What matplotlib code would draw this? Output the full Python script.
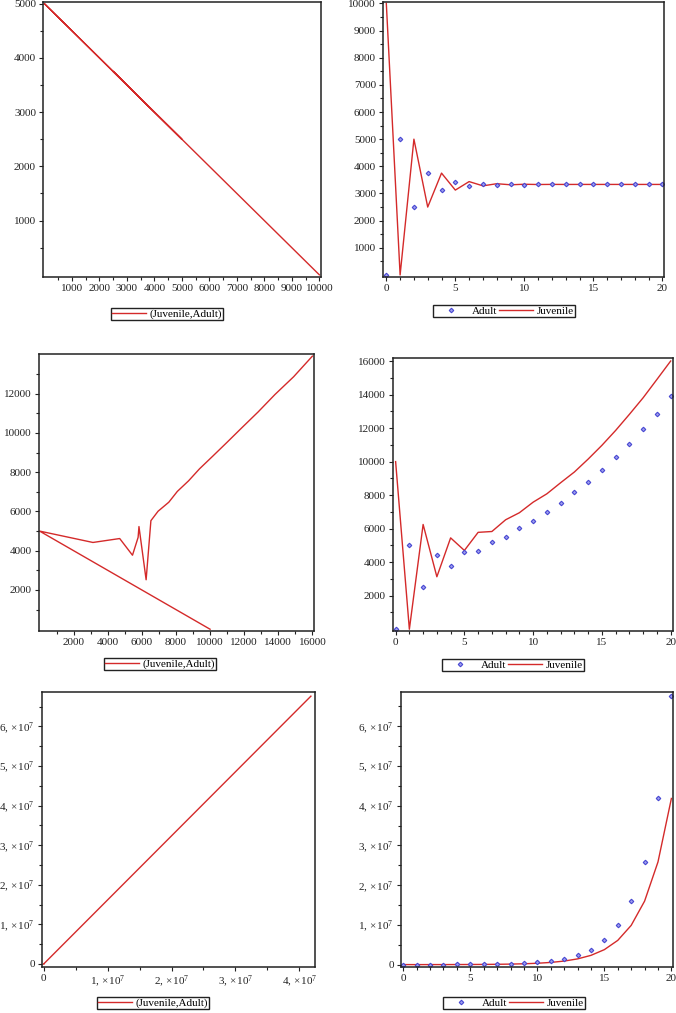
import matplotlib
matplotlib.use("Agg")
import matplotlib.pyplot as plt
from matplotlib.ticker import FixedLocator, MultipleLocator, FuncFormatter
from matplotlib.lines import Line2D

plt.rcParams['font.family'] = ['Liberation Serif', 'DejaVu Serif']
plt.rcParams['mathtext.fontset'] = 'custom'
plt.rcParams['mathtext.rm'] = 'Liberation Serif'
plt.rcParams['mathtext.it'] = 'Liberation Serif:italic'

# generations
t = list(range(21))

# stable population (top row)
juv_stable = [10000, 0, 5000, 2500, 3750, 3125, 3437.5, 3281.3, 3359.4, 3320.3, 3339.8,
              3330.1, 3334.9, 3332.5, 3333.7, 3333.1, 3333.4, 3333.3, 3333.3, 3333.3, 3333.3]
adult_stable = [0, 5000, 2500, 3750, 3125, 3437.5, 3281.3, 3359.4, 3320.3, 3339.8, 3330.1,
                3334.9, 3332.5, 3333.7, 3333.1, 3333.4, 3333.3, 3333.3, 3333.3, 3333.3, 3333.3]

# slowly growing population (middle row)
juv_grow = [10000, 0, 6250, 3130, 5450, 4700, 5780, 5830, 6530, 6950, 7580,
            8080, 8740, 9380, 10150, 10970, 11860, 12820, 13810, 14900, 16000]
adult_grow = [0, 5000, 2520, 4420, 3770, 4620, 4680, 5230, 5530, 6010, 6470,
              7020, 7560, 8170, 8810, 9500, 10260, 11070, 11960, 12860, 13910]
# order in which the phase curve visits the points
phase_order = [0, 1, 3, 5, 4, 6, 7, 2, 8, 9, 10, 11, 12, 13, 14, 15, 16, 17, 18, 19, 20]

# exponential growth (bottom row)
juv_exp = [10000, 0, 10000, 10000, 20000, 30000, 50000, 80000, 130000, 210000, 340000,
           550000, 890000, 1440000, 2330000, 3770000, 6100000, 9870000, 15970000,
           25840000, 41810000]
adult_exp = [0, 10000, 10000, 20000, 30000, 50000, 80000, 130000, 210000, 340000, 550000,
             890000, 1440000, 2330000, 3770000, 6100000, 9870000, 15970000, 25840000,
             41810000, 67650000]

RED = '#d42a2a'
BLUE = '#4646d2'
W, H = 676, 1013
FS = 8

fig = plt.figure(figsize=(W / 100, H / 100), dpi=100)


def make_ax(l, t_, r, b):
    return fig.add_axes([l / W, 1 - b / H, (r - l) / W, (b - t_) / H])


def style(ax):
    for s in ax.spines.values():
        s.set_linewidth(1.1)
        s.set_color('#222222')
    ax.tick_params(which='both', direction='out', labelsize=FS, colors='#222222', width=0.8)
    ax.tick_params(which='major', length=3, pad=2)
    ax.tick_params(which='minor', length=2)


def e7(v, pos):
    n = int(round(v / 1e7))
    if n == 0:
        return '0'
    return r'%d, $\times\,10^{7}$' % n


MK = dict(ls='none', marker='D', ms=2.3, mfc='#a0a0ee', mec=BLUE, mew=0.8)


def leg_phase(cx, cy):
    h = [Line2D([], [], color=RED, lw=1)]
    fig.legend(h, ['(Juvenile,Adult)'], loc='center', bbox_to_anchor=(cx / W, 1 - cy / H),
               fontsize=FS, frameon=True, fancybox=False, edgecolor='#222222',
               borderpad=0.1, handlelength=3.0, handletextpad=0.3, framealpha=1)


def leg_ts(cx, cy):
    h = [Line2D([], [], **MK), Line2D([], [], color=RED, lw=1)]
    fig.legend(h, ['Adult', 'Juvenile'], loc='center', bbox_to_anchor=(cx / W, 1 - cy / H),
               ncol=2, fontsize=FS, frameon=True, fancybox=False, edgecolor='#222222',
               borderpad=0.1, handlelength=3.0, handletextpad=0.4, columnspacing=0.2,
               framealpha=1)


def ts_plot(ax, juv, adult):
    ax.plot(t, juv, color=RED, lw=1)
    ax.plot(t, adult, **MK)
    ax.xaxis.set_major_locator(FixedLocator([0, 5, 10, 15, 20]))
    ax.xaxis.set_minor_locator(MultipleLocator(1))


# top left: phase plot, stable
ax1 = make_ax(43, 2, 321, 277)
ax1.plot(juv_stable, adult_stable, color=RED, lw=1)
ax1.set_xlim(-50, 10060)
ax1.set_ylim(-40, 5030)
ax1.xaxis.set_major_locator(FixedLocator(range(1000, 10001, 1000)))
ax1.xaxis.set_minor_locator(FixedLocator(range(500, 10001, 1000)))
ax1.yaxis.set_major_locator(FixedLocator(range(1000, 5001, 1000)))
ax1.yaxis.set_minor_locator(FixedLocator(range(500, 5001, 1000)))
style(ax1)
leg_phase(167, 314)

# top right: time series, stable
ax2 = make_ax(383, 2, 664, 277)
ts_plot(ax2, juv_stable, adult_stable)
ax2.set_xlim(-0.24, 20.12)
ax2.set_ylim(-75, 10050)
ax2.yaxis.set_major_locator(FixedLocator(range(1000, 10001, 1000)))
ax2.yaxis.set_minor_locator(FixedLocator(range(500, 10001, 1000)))
style(ax2)
leg_ts(504, 311)

# middle left: phase plot, growing
ax3 = make_ax(39, 354, 314, 631)
ax3.plot([juv_grow[i] for i in phase_order], [adult_grow[i] for i in phase_order],
         color=RED, lw=1)
ax3.set_xlim(-33, 16096)
ax3.set_ylim(-90, 14020)
ax3.xaxis.set_major_locator(FixedLocator(range(2000, 16001, 2000)))
ax3.xaxis.set_minor_locator(FixedLocator(range(1000, 16001, 2000)))
ax3.yaxis.set_major_locator(FixedLocator(range(2000, 12001, 2000)))
ax3.yaxis.set_minor_locator(FixedLocator(range(1000, 14001, 2000)))
style(ax3)
leg_phase(160, 664)

# middle right: time series, growing
ax4 = make_ax(393, 358, 673, 631)
ts_plot(ax4, juv_grow, adult_grow)
ax4.set_xlim(-0.19, 20.17)
ax4.set_ylim(-105, 16180)
ax4.yaxis.set_major_locator(FixedLocator(range(2000, 16001, 2000)))
ax4.yaxis.set_minor_locator(FixedLocator(range(1000, 16001, 2000)))
style(ax4)
leg_ts(513, 665)

# bottom left: phase plot, exponential
ax5 = make_ax(42, 692, 315, 967)
ax5.plot(juv_exp, adult_exp, color=RED, lw=1)
ax5.set_xlim(-0.026e7, 4.245e7)
ax5.set_ylim(-0.076e7, 6.87e7)
ax5.xaxis.set_major_locator(FixedLocator([0, 1e7, 2e7, 3e7, 4e7]))
ax5.xaxis.set_minor_locator(FixedLocator([0.5e7, 1.5e7, 2.5e7, 3.5e7]))
ax5.yaxis.set_major_locator(FixedLocator([0, 1e7, 2e7, 3e7, 4e7, 5e7, 6e7]))
ax5.yaxis.set_minor_locator(FixedLocator([0.5e7, 1.5e7, 2.5e7, 3.5e7, 4.5e7, 5.5e7, 6.5e7]))
ax5.xaxis.set_major_formatter(FuncFormatter(e7))
ax5.yaxis.set_major_formatter(FuncFormatter(e7))
style(ax5)
leg_phase(153, 1003)

# bottom right: time series, exponential
ax6 = make_ax(401, 692, 673, 967)
ts_plot(ax6, juv_exp, adult_exp)
ax6.set_xlim(-0.17, 20.12)
ax6.set_ylim(-0.06e7, 6.86e7)
ax6.yaxis.set_major_locator(FixedLocator([0, 1e7, 2e7, 3e7, 4e7, 5e7, 6e7]))
ax6.yaxis.set_minor_locator(FixedLocator([0.5e7, 1.5e7, 2.5e7, 3.5e7, 4.5e7, 5.5e7, 6.5e7]))
ax6.yaxis.set_major_formatter(FuncFormatter(e7))
style(ax6)
leg_ts(514, 1003)

fig.savefig('out.png', dpi=100)
